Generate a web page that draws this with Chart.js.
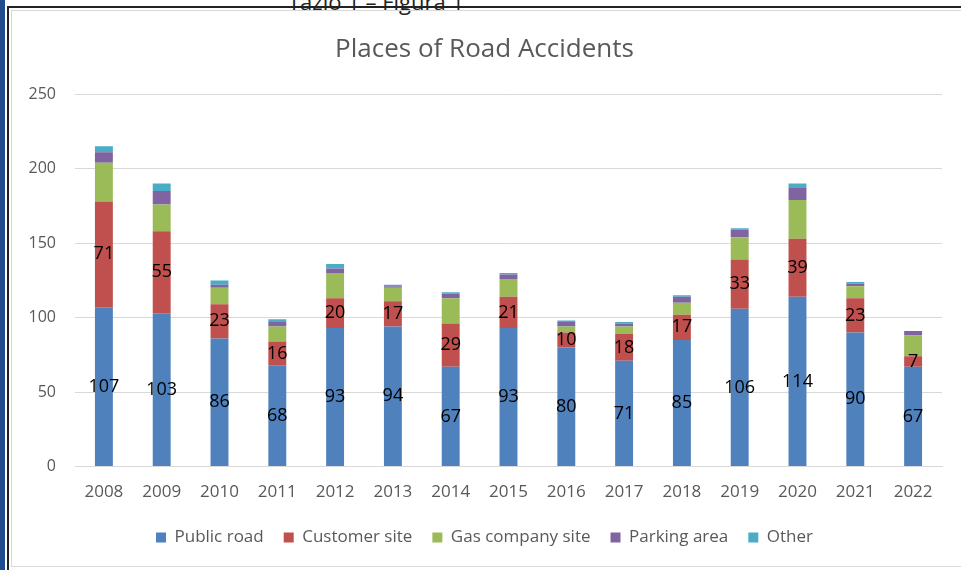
<!DOCTYPE html>
<html>
<head>
<meta charset="utf-8">
<script src="https://cdn.jsdelivr.net/npm/chart.js@4.4.1/dist/chart.umd.min.js"></script>
<style>
  html, body { margin: 0; padding: 0; background: #fff; }
  body { width: 961px; height: 570px; position: relative; overflow: hidden; font-family: "Open Sans", sans-serif; }
  .strip { position: absolute; left: 0; top: 0; width: 5px; height: 570px; background: #1f4d8f; }
  .topline { position: absolute; left: 7px; top: 6px; right: 0; height: 2px; background: #222; }
  .leftline { position: absolute; left: 7px; top: 6px; width: 2px; height: 570px; background: #222; }
  .caption { position: absolute; left: 288px; top: -14px; font-size: 22px; color: #222; }
  .frame { position: absolute; left: 11px; top: 10px; width: 950px; height: 557px; border-top: 1px solid #d9d9d9; border-left: 1px solid #d9d9d9; border-bottom: 1px solid #d9d9d9; box-sizing: border-box; }
  .wrap { position: absolute; left: 12px; top: 11px; width: 949px; height: 555px; }
</style>
</head>
<body>
<div class="strip"></div>
<div class="caption">Tazio 1 – Figura 1</div>
<div class="topline"></div>
<div class="leftline"></div>
<div class="frame"></div>
<div class="wrap"><canvas id="myChart"></canvas></div>
<script>
const years = ["2008", "2009", "2010", "2011", "2012", "2013", "2014", "2015", "2016", "2017", "2018", "2019", "2020", "2021", "2022"];
const publicRoad = [107, 103, 86, 68, 93, 94, 67, 93, 80, 71, 85, 106, 114, 90, 67];
const customerSite = [71, 55, 23, 16, 20, 17, 29, 21, 10, 18, 17, 33, 39, 23, 7];
const gasCompanySite = [26, 18, 11, 10, 17, 9, 17, 12, 4, 5, 8, 15, 26, 8, 14];
const parkingArea = [7, 9, 2, 3, 3, 1, 3, 3, 3, 2, 4, 5, 8, 2, 3];
const other = [4, 5, 3, 2, 3, 1, 1, 1, 1, 1, 1, 1, 3, 1, 0];

const colors = {
    blue: "#4f81bd",
    red: "#c0504d",
    green: "#9bbb59",
    purple: "#8064a2",
    cyan: "#4bacc6"
};

// values printed in the middle of the first two series
const segmentLabels = {
    id: "segmentLabels",
    afterDatasetsDraw(chart) {
        const ctx = chart.ctx;
        ctx.save();
        ctx.font = "18px 'Open Sans'";
        ctx.fillStyle = "#000";
        ctx.textAlign = "center";
        ctx.textBaseline = "middle";
        [0, 1].forEach(i => {
            const meta = chart.getDatasetMeta(i);
            meta.data.forEach((bar, j) => {
                const mid = (bar.y + bar.base) / 2;
                ctx.fillText(chart.data.datasets[i].data[j], bar.x, mid);
            });
        });
        ctx.restore();
    }
};

const ds = (label, data, color) => ({
    label: label,
    data: data,
    backgroundColor: color,
    borderWidth: 0,
    categoryPercentage: 0.62,
    barPercentage: 0.5
});

const config = {
    type: "bar",
    data: {
        labels: years,
        datasets: [
            ds("Public road", publicRoad, colors.blue),
            ds("Customer site", customerSite, colors.red),
            ds("Gas company site", gasCompanySite, colors.green),
            ds("Parking area", parkingArea, colors.purple),
            ds("Other", other, colors.cyan)
        ]
    },
    options: {
        responsive: true,
        maintainAspectRatio: false,
        animation: false,
        layout: { padding: { left: 15, right: 19, top: 0, bottom: 10 } },
        plugins: {
            title: {
                display: true,
                text: "Places of Road Accidents",
                color: "#595959",
                font: { family: "Open Sans", size: 26, weight: "normal" },
                padding: { top: 23, bottom: 29 }
            },
            legend: {
                position: "bottom",
                labels: {
                    color: "#595959",
                    font: { family: "Open Sans", size: 17 },
                    boxWidth: 10,
                    boxHeight: 10,
                    padding: 20
                }
            },
            tooltip: { enabled: false }
        },
        scales: {
            x: {
                stacked: true,
                grid: { display: false },
                border: { color: "#d9d9d9" },
                ticks: { color: "#595959", font: { family: "Open Sans", size: 17 }, padding: 7 }
            },
            y: {
                stacked: true,
                min: 0,
                max: 250,
                afterFit(scale) { scale.width = 48; },
                ticks: { stepSize: 50, color: "#595959", font: { family: "Open Sans", size: 16 }, padding: 19 },
                grid: { color: "#d9d9d9", drawTicks: false },
                border: { display: false }
            }
        }
    },
    plugins: [segmentLabels]
};

new Chart(document.getElementById("myChart").getContext("2d"), config);
</script>
</body>
</html>
